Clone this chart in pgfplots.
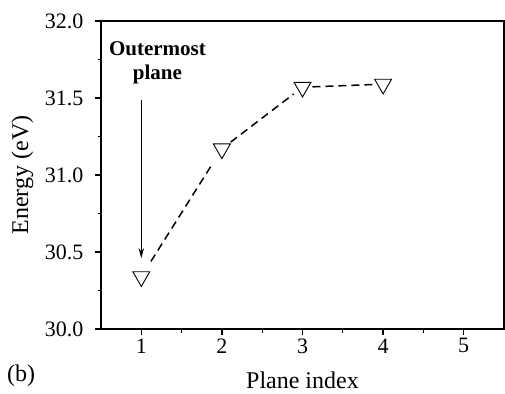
\documentclass[border=0pt]{standalone}
\usepackage{fontspec}
\setmainfont{Liberation Serif}
\usepackage{pgfplots}
\pgfplotsset{compat=1.18}
\usetikzlibrary{arrows.meta}
\begin{document}
\begin{tikzpicture}
\path[use as bounding box] (-101pt,-64pt) rectangle (404pt,329pt);
\begin{axis}[
  at={(0,0)}, anchor=south west,
  scale only axis, width=403pt, height=308pt,
  xmin=0.5, xmax=5.5, ymin=30, ymax=32,
  xtick={1,2,3,4,5}, minor xtick={1.5,2.5,3.5,4.5},
  ytick={30,30.5,31,31.5,32}, minor ytick={30.25,30.75,31.25,31.75},
  axis line style={line width=1.7pt},
  tick align=outside, xtick pos=bottom, ytick pos=left,
  major tick length=6pt, minor tick length=3.5pt,
  every tick/.style={line width=1.3pt, black},
  /pgf/number format/assume math mode=true,
  yticklabel style={/pgf/number format/.cd, fixed, fixed zerofill, precision=1, /tikz/.cd, xshift=-8pt},
  ticklabel style={font=\fontsize{22}{26}\selectfont},
  label style={font=\fontsize{24}{28}\selectfont},
  xlabel={Plane index}, ylabel={Energy (eV)},
  xlabel style={at={(axis description cs:0.5,-0.194)}, anchor=base},
  ylabel style={at={(axis description cs:-0.181,0.5)}, anchor=base},
  clip=false,
]
\addplot[line width=1.5pt, dash pattern=on 8pt off 5pt, shorten <=18pt, shorten >=18pt] coordinates {(1,30.34) (2,31.17)};
\addplot[line width=1.5pt, dash pattern=on 8pt off 5pt, shorten <=11pt, shorten >=11pt] coordinates {(2,31.17) (3,31.57)};
\addplot[line width=1.5pt, dash pattern=on 8pt off 5pt, shorten <=10pt, shorten >=10pt] coordinates {(3,31.57) (4,31.59)};
\addplot[only marks, mark=triangle*, mark size=9.8pt, mark options={rotate=180, fill=white, draw=black, line width=0.9pt, solid}] coordinates {(1,30.34) (2,31.17) (3,31.57) (4,31.59)};
\addplot[line width=1.6pt, -{Stealth[length=10pt,width=5.5pt]}] coordinates {(1,31.49) (1,30.46)};
\node[anchor=base, font=\fontsize{21}{25}\bfseries] at (axis cs:1.2,31.779) {Outermost};
\node[anchor=base, font=\fontsize{21}{25}\bfseries] at (axis cs:1.2,31.617) {plane};
\end{axis}
\node[anchor=base west, font=\fontsize{24}{28}\selectfont, inner sep=0pt] at (-94pt,-52pt) {(b)};
\end{tikzpicture}
\end{document}
